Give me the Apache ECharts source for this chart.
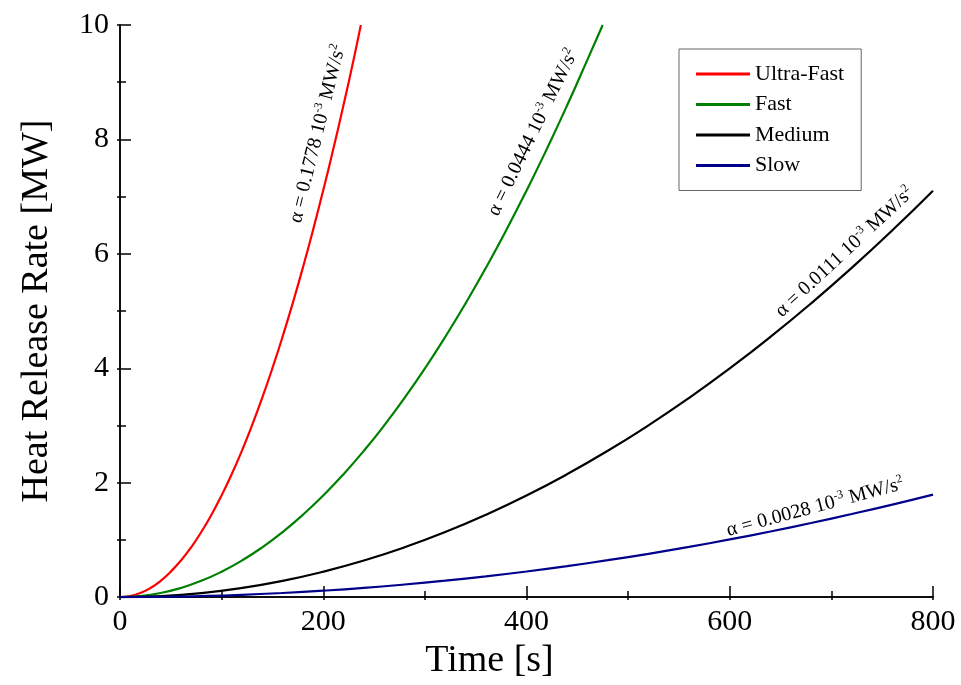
<!DOCTYPE html>
<html>
<head>
<meta charset="utf-8">
<script src="https://cdn.jsdelivr.net/npm/echarts@6/dist/echarts.min.js"></script>
<style>html,body{margin:0;padding:0;background:#fff}#c{width:961px;height:685px}</style>
</head>
<body>
<div id="c"></div>
<script>
// ---- data ----
const seriesNames = ['Ultra-Fast', 'Fast', 'Medium', 'Slow'];
const timeUltra = [0, 10, 20, 30, 40, 50, 60, 70, 80, 90, 100, 110, 120, 130, 140, 150, 160, 170, 180, 190, 200, 210, 220, 230, 237];
const hrrUltra  = [0, 0.018, 0.071, 0.160, 0.284, 0.445, 0.640, 0.871, 1.138, 1.440, 1.778, 2.151, 2.560, 3.005, 3.485, 4.001, 4.552, 5.138, 5.761, 6.419, 7.112, 7.841, 8.605, 9.406, 10.0];
const timeFast  = [0, 20, 40, 60, 80, 100, 120, 140, 160, 180, 200, 220, 240, 260, 280, 300, 320, 340, 360, 380, 400, 420, 440, 460, 475];
const hrrFast   = [0, 0.018, 0.071, 0.160, 0.284, 0.444, 0.639, 0.870, 1.137, 1.439, 1.776, 2.149, 2.557, 3.001, 3.481, 3.996, 4.547, 5.133, 5.754, 6.411, 7.104, 7.832, 8.596, 9.395, 10.0];
const timeMed   = [0, 40, 80, 120, 160, 200, 240, 280, 320, 360, 400, 440, 480, 520, 560, 600, 640, 680, 720, 760, 800];
const hrrMed    = [0, 0.018, 0.071, 0.160, 0.284, 0.444, 0.639, 0.870, 1.137, 1.439, 1.776, 2.149, 2.557, 3.001, 3.481, 3.996, 4.547, 5.133, 5.754, 6.411, 7.104];
const timeSlow  = [0, 40, 80, 120, 160, 200, 240, 280, 320, 360, 400, 440, 480, 520, 560, 600, 640, 680, 720, 760, 800];
const hrrSlow   = [0, 0.004, 0.018, 0.040, 0.072, 0.112, 0.161, 0.220, 0.287, 0.363, 0.448, 0.542, 0.645, 0.757, 0.878, 1.008, 1.147, 1.295, 1.452, 1.617, 1.792];
const xTicks = [0, 200, 400, 600, 800];
const yTicks = [0, 2, 4, 6, 8, 10];
const annotations = [
  { alpha: '0.1778', at: [194.5, 8.1], angle: 76 },
  { alpha: '0.0444', at: [406.5, 8.12], angle: 64 },
  { alpha: '0.0111', at: [713, 6.03], angle: 43 },
  { alpha: '0.0028', at: [684, 1.57], angle: 15 }
];

const colors = ['#ff0000', '#008000', '#000000', '#00008b'];
const serif = 'Liberation Serif';
const pair = (t, v) => t.map((x, i) => [x, v[i]]);
const seriesData = [pair(timeUltra, hrrUltra), pair(timeFast, hrrFast), pair(timeMed, hrrMed), pair(timeSlow, hrrSlow)];

const chart = echarts.init(document.getElementById('c'), null, { renderer: 'canvas' });
const axisLineStyle = { color: '#000', width: 1.5 };
chart.setOption({
  animation: false,
  backgroundColor: '#fff',
  color: colors,
  grid: { left: 120, right: 28, top: 25, bottom: 85 },
  legend: {
    orient: 'vertical', left: 679, top: 49,
    padding: [14, 17, 14, 17],
    borderColor: '#666', borderWidth: 1,
    itemWidth: 54, itemHeight: 3, itemGap: 8.5,
    icon: 'rect',
    data: seriesNames,
    textStyle: { fontFamily: serif, fontSize: 22, color: '#000' }
  },
  xAxis: [{
    type: 'value', min: 0, max: 800, interval: 200,
    name: 'Time [s]', nameLocation: 'middle', nameGap: 44,
    nameTextStyle: { fontFamily: serif, fontSize: 38, color: '#000', padding: [0, 74, 0, 0] },
    axisLine: { lineStyle: axisLineStyle },
    axisTick: { inside: true, length: 11, lineStyle: axisLineStyle },
    minorTick: { show: true, splitNumber: 2, length: 6, lineStyle: { color: '#000', width: 1.5 } },
    splitLine: { show: false },
    axisLabel: { margin: 10, fontFamily: serif, fontSize: 30, color: '#000',
      formatter: v => xTicks.includes(v) ? String(v) : '' }
  }, {
    type: 'value', min: 0, max: 800, interval: 100, position: 'top',
    axisLine: { lineStyle: axisLineStyle },
    axisTick: { inside: true, length: 3, lineStyle: axisLineStyle },
    axisLabel: { show: false }, splitLine: { show: false }
  }],
  yAxis: [{
    type: 'value', min: 0, max: 10, interval: 2,
    name: 'Heat Release Rate [MW]', nameLocation: 'middle', nameGap: 64,
    nameTextStyle: { fontFamily: serif, fontSize: 38, color: '#000' },
    axisLine: { show: true, lineStyle: axisLineStyle },
    axisTick: { show: true, inside: true, length: 11, lineStyle: axisLineStyle },
    minorTick: { show: true, splitNumber: 2, length: 6, lineStyle: { color: '#000', width: 1.5 } },
    splitLine: { show: false },
    axisLabel: { margin: 11, fontFamily: serif, fontSize: 30, color: '#000',
      formatter: v => yTicks.includes(v) ? String(v) : '' }
  }, {
    type: 'value', min: 0, max: 10, interval: 1, position: 'right',
    axisLine: { show: true, lineStyle: axisLineStyle },
    axisTick: { show: true, inside: true, length: 3, lineStyle: axisLineStyle },
    axisLabel: { show: false }, splitLine: { show: false }
  }],
  series: seriesNames.map((n, i) => ({
    name: n, type: 'line', data: seriesData[i], smooth: true,
    showSymbol: false, symbol: 'none', clip: true,
    xAxisIndex: 0, yAxisIndex: 0,
    lineStyle: { color: colors[i], width: 2.2 }
  }))
});

const graphic = annotations.map(a => {
  const p = chart.convertToPixel({ xAxisIndex: 0, yAxisIndex: 0 }, a.at);
  return {
    type: 'text', x: p[0], y: p[1], rotation: a.angle * Math.PI / 180, z: 10,
    style: {
      text: '{n|α = ' + a.alpha + ' 10}{s|-3}{n| MW/s}{s|2}',
      align: 'center', verticalAlign: 'middle',
      rich: {
        n: { fontFamily: serif, fontSize: 20, color: '#000', lineHeight: 23 },
        s: { fontFamily: serif, fontSize: 12, color: '#000', verticalAlign: 'top', lineHeight: 12 }
      }
    }
  };
});
chart.setOption({ graphic: graphic });
</script>
</body>
</html>
